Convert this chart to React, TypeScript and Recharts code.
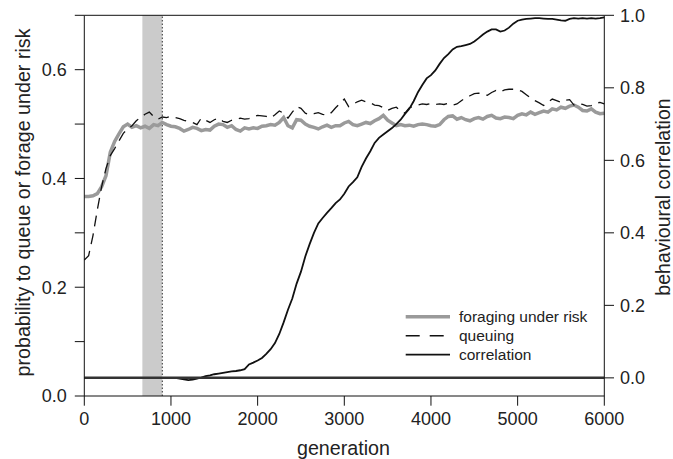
import React from "react";
import {
  ComposedChart,
  Line,
  XAxis,
  YAxis,
  ReferenceArea,
  ReferenceLine,
  Legend,
} from "recharts";

// Sampling grid: one value every 50 generations, 0..6000
const generations: number[] = Array.from({ length: 121 }, (_, i) => i * 50);

// Probability of foraging under risk (left axis)
const foraging: number[] = [
  0.367, 0.367, 0.368, 0.372, 0.385, 0.405, 0.448, 0.468, 0.482, 0.495,
  0.5, 0.494, 0.497, 0.493, 0.496, 0.492, 0.499, 0.497, 0.503, 0.499,
  0.496, 0.495, 0.492, 0.487, 0.49, 0.494, 0.492, 0.488, 0.49, 0.489,
  0.496, 0.5, 0.499, 0.494, 0.497, 0.49, 0.487, 0.493, 0.491, 0.493,
  0.492, 0.496, 0.497, 0.499, 0.498, 0.503, 0.512, 0.497, 0.493, 0.508,
  0.507, 0.5, 0.496, 0.494, 0.491, 0.495, 0.498, 0.494, 0.497, 0.497,
  0.502, 0.505, 0.499, 0.497, 0.5, 0.503, 0.501, 0.506, 0.51, 0.516,
  0.507, 0.502, 0.497, 0.499, 0.497, 0.498, 0.496, 0.499, 0.5, 0.499,
  0.497, 0.496, 0.499, 0.508, 0.514, 0.515, 0.509, 0.512, 0.508, 0.506,
  0.51, 0.512, 0.509, 0.514, 0.516, 0.511, 0.51, 0.513, 0.512, 0.51,
  0.516, 0.519, 0.517, 0.522, 0.518, 0.521, 0.524, 0.522, 0.528, 0.526,
  0.531, 0.529, 0.533, 0.535, 0.531, 0.525, 0.524, 0.528, 0.522, 0.519,
  0.52,
];

// Probability of queuing (left axis)
const queuing: number[] = [
  0.25, 0.258, 0.295, 0.342, 0.385, 0.418, 0.442, 0.455, 0.469, 0.483,
  0.491, 0.497, 0.506, 0.512, 0.518, 0.522, 0.514, 0.509, 0.513, 0.512,
  0.514, 0.512, 0.51, 0.507, 0.505, 0.503, 0.499, 0.511, 0.507, 0.503,
  0.508, 0.511, 0.505, 0.503, 0.507, 0.508, 0.511, 0.509, 0.51, 0.513,
  0.516, 0.515, 0.514, 0.511, 0.517, 0.524, 0.52, 0.511, 0.522, 0.532,
  0.529, 0.52, 0.517, 0.519, 0.521, 0.518, 0.516, 0.521, 0.53, 0.538,
  0.546, 0.532, 0.536, 0.541, 0.544, 0.541, 0.539, 0.535, 0.534, 0.53,
  0.525, 0.529, 0.531, 0.524, 0.52, 0.53, 0.533, 0.535, 0.537, 0.536,
  0.538, 0.536, 0.537, 0.536, 0.538, 0.535, 0.537, 0.543, 0.548, 0.552,
  0.556, 0.557, 0.554, 0.553, 0.558, 0.562, 0.559, 0.563, 0.564, 0.564,
  0.563, 0.56, 0.554, 0.548, 0.543, 0.539, 0.534, 0.54, 0.546, 0.543,
  0.54, 0.544, 0.545, 0.535, 0.538, 0.536, 0.533, 0.534, 0.538, 0.54,
  0.537,
];

// Behavioural correlation (right axis)
const correlation: number[] = [
  0, 0, 0, 0, 0, 0, 0, 0, 0, 0,
  0, 0, 0, 0, 0, 0, 0, 0, 0, 0,
  0, 0, -0.002, -0.004, -0.006, -0.005, -0.002, 0.001, 0.005, 0.007,
  0.01, 0.012, 0.014, 0.016, 0.018, 0.019, 0.021, 0.024, 0.037, 0.042,
  0.048, 0.055, 0.066, 0.079, 0.096, 0.121, 0.153, 0.188, 0.219, 0.26,
  0.293, 0.335, 0.369, 0.4, 0.426, 0.441, 0.455, 0.468, 0.482, 0.492,
  0.508, 0.528, 0.54, 0.553, 0.582, 0.605, 0.625, 0.648, 0.662, 0.671,
  0.68, 0.689, 0.7, 0.712, 0.728, 0.742, 0.763, 0.788, 0.808, 0.826,
  0.835, 0.848, 0.866, 0.882, 0.893, 0.906, 0.913, 0.915, 0.918, 0.921,
  0.928, 0.937, 0.947, 0.955, 0.961, 0.961, 0.955, 0.958, 0.966, 0.977,
  0.985, 0.988, 0.99, 0.991, 0.992, 0.992, 0.991, 0.99, 0.99, 0.988,
  0.986, 0.985, 0.99, 0.992, 0.991, 0.992, 0.991, 0.992, 0.991, 0.992,
  0.994,
];

const xTicks = [0, 1000, 2000, 3000, 4000, 5000, 6000];
const leftTicks = [0, 0.1, 0.2, 0.3, 0.4, 0.5, 0.6, 0.7];
const leftLabelled = [0, 0.2, 0.4, 0.6];
const rightTicks = [0, 0.2, 0.4, 0.6, 0.8, 1.0];

// Shaded window and marker generation
const bandStart = 670;
const bandEnd = 900;

const legendItems = [
  { label: "foraging under risk", stroke: "#9a9a9a", width: 3.5, dash: undefined as string | undefined },
  { label: "queuing", stroke: "#111", width: 1.5, dash: "14 10" },
  { label: "correlation", stroke: "#111", width: 1.8, dash: undefined as string | undefined },
];

const rows = generations.map((g, i) => ({
  gen: g,
  forage: foraging[i],
  queue: queuing[i],
  corr: correlation[i],
}));

const FONT = '"Liberation Sans", Arial, Helvetica, sans-serif';
const TXT = "#222";

const tickStyle = { fontSize: 18, fill: TXT, fontFamily: FONT };

const LegendBox = () => (
  <svg width={200} height={62} style={{ display: "block" }}>
    {legendItems.map((it, i) => {
      const y = 11.7 + i * 19;
      return (
        <g key={it.label}>
          <line
            x1={5.7}
            x2={50}
            y1={y}
            y2={y}
            stroke={it.stroke}
            strokeWidth={it.width}
            strokeDasharray={it.dash}
          />
          <text
            x={59}
            y={y}
            dy="0.35em"
            fontSize={15.5}
            fill={TXT}
            fontFamily={FONT}
          >
            {it.label}
          </text>
        </g>
      );
    })}
  </svg>
);

export default function App() {
  return (
    <div
      style={{
        position: "absolute",
        left: 0,
        top: 0,
        width: 673,
        height: 459,
        background: "#fff",
      }}
    >
      <ComposedChart
        width={673}
        height={459}
        data={rows}
        margin={{ top: 15.3, right: 0, bottom: 0, left: 0 }}
        style={{ fontFamily: FONT }}
      >
        <ReferenceArea
          yAxisId="left"
          x1={bandStart}
          x2={bandEnd}
          y1={0}
          y2={0.7}
          fill="#cbcbcb"
          fillOpacity={1}
          stroke="none"
        />
        <ReferenceLine
          yAxisId="left"
          x={bandEnd}
          stroke="#333"
          strokeWidth={1}
          strokeDasharray="1.5 2"
        />
        <XAxis
          dataKey="gen"
          type="number"
          domain={[0, 6000]}
          ticks={xTicks}
          height={63}
          tickSize={9.7}
          tickMargin={6.5}
          tick={tickStyle}
          axisLine={{ stroke: "#111", strokeWidth: 1 }}
          tickLine={{ stroke: "#111", strokeWidth: 1 }}
          label={{
            content: () => (
              <text
                x={343.5}
                y={455}
                textAnchor="middle"
                fontSize={19.7}
                fill={TXT}
                fontFamily={FONT}
              >
                generation
              </text>
            ),
          }}
        />
        <YAxis
          yAxisId="left"
          orientation="left"
          type="number"
          domain={[0, 0.7]}
          ticks={leftTicks}
          width={84.3}
          tickSize={9.5}
          tickMargin={8}
          tick={tickStyle}
          tickFormatter={(v: number) =>
            leftLabelled.some((t) => Math.abs(t - v) < 1e-6) ? v.toFixed(1) : ""
          }
          axisLine={{ stroke: "#111", strokeWidth: 1 }}
          tickLine={{ stroke: "#111", strokeWidth: 1 }}
          label={{
            content: () => (
              <text
                x={30}
                y={202.5}
                transform="rotate(-90 30 202.5)"
                textAnchor="middle"
                fontSize={19.7}
                fill={TXT}
                fontFamily={FONT}
              >
                probability to queue or forage under risk
              </text>
            ),
          }}
        />
        <YAxis
          yAxisId="right"
          orientation="right"
          type="number"
          domain={[-0.05, 1]}
          ticks={rightTicks}
          width={68.7}
          tickSize={9.7}
          tickMargin={6}
          tick={tickStyle}
          tickFormatter={(v: number) => v.toFixed(1)}
          axisLine={{ stroke: "#111", strokeWidth: 1 }}
          tickLine={{ stroke: "#111", strokeWidth: 1 }}
          label={{
            content: () => (
              <text
                x={669.5}
                y={197}
                transform="rotate(-90 669.5 197)"
                textAnchor="middle"
                fontSize={19.5}
                fill={TXT}
                fontFamily={FONT}
              >
                behavioural correlation
              </text>
            ),
          }}
        />
        {/* frame top edge */}
        <ReferenceLine yAxisId="left" y={0.7} stroke="#111" strokeWidth={1} />
        <Line
          yAxisId="left"
          dataKey="forage"
          type="linear"
          stroke="#9a9a9a"
          strokeWidth={3.5}
          dot={false}
          activeDot={false}
          isAnimationActive={false}
        />
        <Line
          yAxisId="left"
          dataKey="queue"
          type="linear"
          stroke="#111"
          strokeWidth={1.3}
          strokeDasharray="11 7"
          dot={false}
          activeDot={false}
          isAnimationActive={false}
        />
        <Line
          yAxisId="right"
          dataKey="corr"
          type="linear"
          stroke="#111"
          strokeWidth={1.8}
          dot={false}
          activeDot={false}
          isAnimationActive={false}
        />
        {/* zero reference for the correlation */}
        <ReferenceLine yAxisId="right" y={0} stroke="#333" strokeWidth={2.5} />
        <Legend
          layout="vertical"
          align="center"
          verticalAlign="middle"
          content={() => <LegendBox />}
          wrapperStyle={{ left: 400, top: 305, width: 200, height: 62 }}
        />
      </ComposedChart>
    </div>
  );
}
